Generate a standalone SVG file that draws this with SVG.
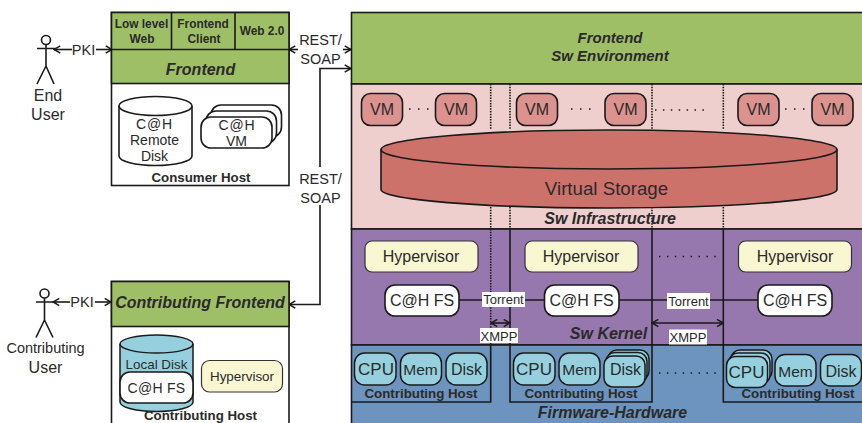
<svg xmlns="http://www.w3.org/2000/svg" width="862" height="423" viewBox="0 0 862 423">
<style>
text{font-family:"Liberation Sans",Arial,sans-serif;fill:#2a2a2a;text-anchor:middle}
.n{font-size:16px}
.p{font-size:14.500px}
.m{font-size:14px}
.sm{font-size:13.400px}
.s{font-size:13px}
.b{font-weight:bold;font-size:11.900px}
.t{font-weight:bold;font-size:13.300px}
.h{font-weight:bold;font-style:italic;font-size:15px}
.k{font-weight:bold;font-style:italic;font-size:16px}
.box{stroke:#1a1a1a;stroke-width:1.6}
.w{fill:#fff}
.l{fill:none;stroke:#1a1a1a;stroke-width:1.6}
.vm{fill:#dc9390;stroke:#1a1a1a;stroke-width:1.6}
.hv{fill:#f9f6d2;stroke:#333;stroke-width:1.2}
.c{fill:#96d0de;stroke:#1a1a1a;stroke-width:1.5}
.d{fill:none;stroke:#1a1a1a;stroke-width:1.6;stroke-dasharray:1.5 1.2}
.dots{fill:none;stroke:#1a1a1a;stroke-width:1.5;stroke-dasharray:1.5 7.500}
.dotl{fill:none;stroke:#1a1a1a;stroke-width:1.5;stroke-dasharray:1.5 6.400}
</style>
<defs>
<marker id="a" viewBox="0 0 10 10" refX="9" refY="5" markerWidth="9" markerHeight="9" orient="auto-start-reverse" markerUnits="userSpaceOnUse"><path d="M2 1L9 5L2 9" fill="none" stroke="#1a1a1a" stroke-width="1.6"/></marker>
</defs>
<rect width="862" height="423" fill="#fff"/>

<g id="layers">
<rect class="box" x="351.500" y="12.500" width="512" height="71.500" fill="#9fbf67"/>
<rect class="box" x="351.500" y="84" width="512" height="145" fill="#eecfcd"/>
<rect class="box" x="351.500" y="229" width="512" height="116" fill="#9677ae"/>
<rect class="box" x="351.500" y="345" width="512" height="80" fill="#6d94bf"/>
<text class="h" x="610" y="43">Frontend</text>
<text class="h" x="610" y="61">Sw Environment</text>
<text class="k" x="610" y="224">Sw Infrastructure</text>
<text class="k" x="608.500" y="339">Sw Kernel</text>
<text class="k" x="612.500" y="418">Firmware-Hardware</text>
</g>

<g id="connectors">
<path class="d" d="M490.700 84V130M490.700 207V229M490.700 229V345"/>
<path class="d" d="M510 84V130M510 207V229M652 84V130M652 207V229M723.300 84V130M723.300 207V229"/>
<path class="l" d="M510 229V402H652V229M723.300 229V402H863M351 402H490.700V345"/>
<path class="l" d="M459 300H544M619 300H758"/>
<path class="l" d="M491 323H510" marker-start="url(#a)" marker-end="url(#a)"/>
<path class="l" d="M652 323H723.300" marker-start="url(#a)" marker-end="url(#a)"/>
<path class="l" d="M54 49.500H72" marker-start="url(#a)"/>
<path class="l" d="M96 49.500H112" marker-end="url(#a)"/>
<path class="l" d="M53 302H70" marker-start="url(#a)"/>
<path class="l" d="M95 302H111" marker-end="url(#a)"/>
<path class="l" d="M289 49.500H298" marker-start="url(#a)"/>
<path class="l" d="M343 49.500H351" marker-end="url(#a)"/>
<path class="l" d="M320 167V68.500H351" marker-end="url(#a)"/>
<path class="l" d="M320 205V304.500H289" marker-end="url(#a)"/>
<path class="dots" d="M409 109H429M571 109H591M785 109H805"/>
<path class="dotl" d="M655 110H704M659 256.500H716M659 373H716"/>
</g>

<g id="end-user">
<circle class="l" cx="46" cy="40" r="4.500"/>
<path class="l" d="M37 48.500H56M46 44.500V66M37 84L46 66L54 84"/>
<text class="n" x="48" y="101">End</text>
<text class="n" x="48" y="120">User</text>
</g>
<text id="pki-1" class="p" x="83.500" y="54.500">PKI</text>

<g id="contributing-user">
<circle class="l" cx="44.500" cy="293.500" r="4.500"/>
<path class="l" d="M36 302H54M44.500 298V320M36 337.500L44.500 320L53 337.500"/>
<text class="p" x="45.500" y="353">Contributing</text>
<text class="n" x="45.500" y="372.500">User</text>
</g>
<text id="pki-2" class="p" x="82" y="307">PKI</text>

<text id="rest-1" class="p"><tspan x="320.500" y="45">REST/</tspan><tspan x="320.500" y="64">SOAP</tspan></text>
<text id="rest-2" class="p"><tspan x="320.500" y="184">REST/</tspan><tspan x="320.500" y="203">SOAP</tspan></text>

<g id="consumer-host">
<rect class="box w" x="111.500" y="12.500" width="177.500" height="173"/>
<rect class="box" x="111.500" y="12.500" width="177.500" height="71" fill="#9fbf67"/>
<path class="l" d="M111.500 49.500H289M171.500 12.500V49.500M235 12.500V49.500"/>
<text class="b" x="141.500" y="27.500">Low level</text>
<text class="b" x="142" y="42.500">Web</text>
<text class="b" x="203" y="27.500">Frontend</text>
<text class="b" x="204" y="42.500">Client</text>
<text class="b" x="262" y="34.500">Web 2.0</text>
<text class="k" x="200.500" y="75">Frontend</text>
<path class="box w" d="M119 106V156A36.500 9.500 0 0 0 192 156V106"/>
<ellipse class="box w" cx="155.500" cy="106" rx="36.500" ry="9.500"/>
<text class="m" x="154.500" y="129" letter-spacing="0.800">C@H</text>
<text class="m" x="154.500" y="145">Remote</text>
<text class="m" x="154.500" y="161">Disk</text>
<rect class="box w" x="211" y="105" width="70.500" height="32" rx="10"/>
<rect class="box w" x="206" y="111" width="70.500" height="32" rx="10"/>
<rect class="box w" x="201" y="117" width="71" height="31" rx="10"/>
<text class="m" x="237" y="130" letter-spacing="0.800">C@H</text>
<text class="m" x="236.500" y="146">VM</text>
<text class="t" x="201" y="182">Consumer Host</text>
</g>

<g id="contributing-host">
<rect class="box w" x="111.500" y="281.500" width="177.500" height="150"/>
<rect class="box" x="111.500" y="281.500" width="177.500" height="45" fill="#9fbf67"/>
<text class="k" x="200" y="307.500">Contributing Frontend</text>
<path class="c" d="M120 344V402A36.500 9.500 0 0 0 193 402V344"/>
<ellipse class="c" cx="156.500" cy="344" rx="36.500" ry="9"/>
<text class="sm" x="156.500" y="368.500">Local Disk</text>
<rect class="box w" x="120" y="372" width="73" height="31" rx="10"/>
<text class="m" x="156.500" y="392.500" letter-spacing="0.300">C@H FS</text>
<rect class="hv" x="201.500" y="360.500" width="81" height="31.500" rx="8"/>
<text class="sm" x="242" y="381">Hypervisor</text>
<text class="t" x="200.500" y="419.500">Contributing Host</text>
</g>

<g id="virtual-machines">
<rect class="vm" x="361.500" y="93.500" width="41" height="32" rx="9"/>
<rect class="vm" x="435.500" y="93.500" width="41" height="32" rx="9"/>
<rect class="vm" x="516.500" y="93.500" width="41" height="32" rx="9"/>
<rect class="vm" x="605" y="93.500" width="41" height="32" rx="9"/>
<rect class="vm" x="738" y="93.500" width="41" height="32" rx="9"/>
<rect class="vm" x="812" y="93.500" width="41" height="32" rx="9"/>
<text class="n" x="382" y="114.500">VM</text>
<text class="n" x="456" y="114.500">VM</text>
<text class="n" x="537" y="114.500">VM</text>
<text class="n" x="625.500" y="114.500">VM</text>
<text class="n" x="758.500" y="114.500">VM</text>
<text class="n" x="832.500" y="114.500">VM</text>
</g>

<g id="virtual-storage">
<path d="M381 149.500V189.500A228 18.500 0 0 0 837 189.500V149.500" fill="#cd716b" stroke="#1a1a1a" stroke-width="1.6"/>
<ellipse cx="609" cy="149.500" rx="228" ry="19.500" fill="#cd716b" stroke="#1a1a1a" stroke-width="1.6"/>
<text x="606.500" y="195" style="font-size:18.700px">Virtual Storage</text>
</g>

<g id="hypervisors">
<rect class="hv" x="365" y="241" width="113" height="31" rx="7"/>
<rect class="hv" x="525" y="241" width="113" height="31" rx="7"/>
<rect class="hv" x="738.500" y="241" width="113" height="31" rx="7"/>
<text class="n" x="421" y="261.500">Hypervisor</text>
<text class="n" x="581" y="261.500">Hypervisor</text>
<text class="n" x="795" y="261.500">Hypervisor</text>
</g>

<g id="fs-nodes">
<rect class="box w" x="385" y="285" width="74" height="31" rx="10"/>
<rect class="box w" x="544.500" y="285" width="74.500" height="31" rx="10"/>
<rect class="box w" x="758" y="285" width="74" height="31" rx="10"/>
<text class="n" x="422" y="305.500">C@H FS</text>
<text class="n" x="581.500" y="305.500">C@H FS</text>
<text class="n" x="795" y="305.500">C@H FS</text>
</g>

<g id="protocol-labels">
<rect x="482" y="292" width="43" height="15" fill="#fff"/>
<text class="s" x="503.500" y="304">Torrent</text>
<rect x="667" y="293" width="43" height="16" fill="#fff"/>
<text class="s" x="688.500" y="305.500">Torrent</text>
<rect x="480" y="328" width="38" height="15" fill="#fff"/>
<text class="s" x="499" y="340.500">XMPP</text>
<rect x="669" y="329.500" width="38" height="15" fill="#fff"/>
<text class="s" x="688" y="342">XMPP</text>
</g>

<g id="host-1">
<rect class="c" x="354.500" y="353" width="41.500" height="32" rx="10"/>
<rect class="c" x="400.500" y="353" width="41" height="32" rx="10"/>
<rect class="c" x="446" y="353" width="41" height="32" rx="10"/>
<text x="376" y="374.500" style="font-size:17px">CPU</text>
<text x="420.500" y="374.500" style="font-size:15.500px">Mem</text>
<text x="466.500" y="374.500" class="n">Disk</text>
<text class="t" x="421" y="398">Contributing Host</text>
</g>

<g id="host-2">
<rect class="c" x="513.500" y="353" width="41.500" height="32" rx="10"/>
<rect class="c" x="559" y="353" width="41" height="32" rx="10"/>
<rect class="c" x="608" y="350" width="41" height="30" rx="9"/>
<rect class="c" x="606" y="352.500" width="41" height="31" rx="9"/>
<rect class="c" x="604" y="356" width="41" height="31" rx="9"/>
<text x="534" y="375" style="font-size:17px">CPU</text>
<text x="579.500" y="375" style="font-size:15.500px">Mem</text>
<text x="625.500" y="375" class="n">Disk</text>
<text class="t" x="581" y="398">Contributing Host</text>
</g>

<g id="host-3">
<rect class="c" x="731" y="350" width="41" height="30" rx="9"/>
<rect class="c" x="729" y="353" width="41" height="31" rx="9"/>
<rect class="c" x="726.500" y="356.500" width="41" height="31" rx="9"/>
<rect class="c" x="775" y="354.500" width="41" height="31.500" rx="10"/>
<rect class="c" x="820.500" y="354.500" width="41" height="31.500" rx="10"/>
<text x="746.500" y="378" style="font-size:17px">CPU</text>
<text x="795.500" y="376.500" style="font-size:15.500px">Mem</text>
<text x="841" y="376.500" class="n">Disk</text>
<text class="t" x="798" y="398">Contributing Host</text>
</g>
</svg>
